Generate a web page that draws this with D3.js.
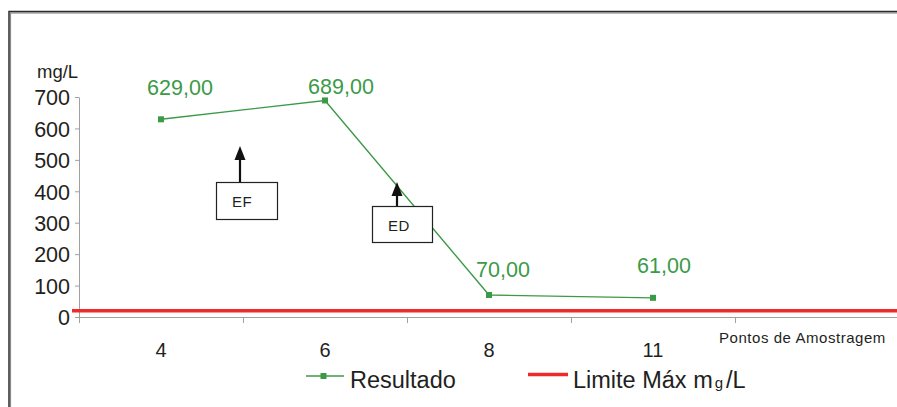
<!DOCTYPE html>
<html>
<head>
<meta charset="utf-8">
<script src="https://cdn.jsdelivr.net/npm/d3@7/dist/d3.min.js"></script>
<style>
  html, body { margin: 0; padding: 0; background: #fff; }
  svg { display: block; font-family: "Liberation Sans", Arial, Helvetica, sans-serif; }
</style>
</head>
<body>
<svg id="chart" width="897" height="407"></svg>
<script>
// Sampling points and measured concentrations (mg/L)
const categories = ["4", "6", "8", "11"];
const resultado = [629, 689, 70, 61];
const limiteMax = 20;
const yTicks = [0, 100, 200, 300, 400, 500, 600, 700];

// Label placement relative to each point (px): centre x offset, baseline y offset
const labelOffsets = [[19, -24], [16, -6], [14, -18], [11, -25]];

const green = "#3b9a47";
const red = "#ee2a2a";
const axisGray = "#a0a0a0";
const textColor = "#231f20";

const svg = d3.select("#chart");

// Outer frame (extends past the right and bottom edges)
svg.append("rect")
  .attr("x", 9.5).attr("y", 12)
  .attr("width", 960).attr("height", 460)
  .attr("fill", "none")
  .attr("stroke", "#8a8a8a").attr("stroke-width", 1.2)
  .attr("transform", "translate(1,1)");
svg.append("rect")
  .attr("x", 9).attr("y", 11.5)
  .attr("width", 960).attr("height", 460)
  .attr("fill", "none")
  .attr("stroke", "#2b2b2b").attr("stroke-width", 1.5);

const plotLeft = 79, plotBottom = 317, plotTop = 97;
const band = 164;

const x = d3.scaleBand()
  .domain(categories)
  .range([plotLeft, plotLeft + band * categories.length])
  .paddingInner(0).paddingOuter(0);

const y = d3.scaleLinear()
  .domain([0, 700])
  .range([plotBottom, plotTop]);

// Y axis
const yAxis = svg.append("g")
  .attr("transform", `translate(${plotLeft},0)`)
  .call(d3.axisLeft(y).tickValues(yTicks).tickSize(4).tickPadding(5).tickSizeOuter(0));
yAxis.select(".domain").attr("stroke", axisGray);
yAxis.selectAll(".tick line").attr("stroke", axisGray);
yAxis.selectAll(".tick text")
  .attr("font-size", 21.5).attr("fill", textColor)
  .attr("font-family", "Liberation Sans, Arial, sans-serif")
  .attr("dy", "0.36em");

// X axis: baseline with ticks on category boundaries
const xAxis = svg.append("g");
xAxis.append("line")
  .attr("x1", plotLeft).attr("x2", 905)
  .attr("y1", y(0) + 0.5).attr("y2", y(0) + 0.5)
  .attr("stroke", axisGray);
const boundaries = categories.map(c => x(c)).concat([x.range()[1], x.range()[1] + band]);
xAxis.selectAll("line.tick")
  .data(boundaries)
  .join("line")
  .attr("class", "tick")
  .attr("x1", d => d + 0.5).attr("x2", d => d + 0.5)
  .attr("y1", y(0)).attr("y2", y(0) + 6)
  .attr("stroke", axisGray);
xAxis.selectAll("text.cat")
  .data(categories)
  .join("text")
  .attr("class", "cat")
  .attr("x", d => x(d) + x.bandwidth() / 2)
  .attr("y", 357)
  .attr("text-anchor", "middle")
  .attr("font-size", 20)
  .attr("fill", textColor)
  .text(d => d);

// Axis titles
svg.append("text")
  .attr("x", 37).attr("y", 78)
  .attr("font-size", 18.5).attr("fill", textColor)
  .text("mg/L");
svg.append("text")
  .attr("x", 719).attr("y", 343)
  .attr("font-size", 15).attr("fill", textColor)
  .attr("letter-spacing", 0.55)
  .text("Pontos de Amostragem");

// Maximum limit line
svg.append("line")
  .attr("x1", 72).attr("x2", 905)
  .attr("y1", y(limiteMax)).attr("y2", y(limiteMax))
  .attr("stroke", red).attr("stroke-width", 3.5);

// Result series
const pts = categories.map((c, i) => ({ c, v: resultado[i], off: labelOffsets[i] }));
const line = d3.line()
  .x(d => x(d.c) + x.bandwidth() / 2)
  .y(d => y(d.v));
svg.append("path")
  .datum(pts)
  .attr("d", line)
  .attr("fill", "none")
  .attr("stroke", green).attr("stroke-width", 1.4);
svg.selectAll("rect.mk")
  .data(pts)
  .join("rect")
  .attr("class", "mk")
  .attr("x", d => x(d.c) + x.bandwidth() / 2 - 3)
  .attr("y", d => y(d.v) - 3)
  .attr("width", 6).attr("height", 6)
  .attr("fill", green);

const fmt = v => d3.format(".2f")(v).replace(".", ",");
svg.selectAll("text.val")
  .data(pts)
  .join("text")
  .attr("class", "val")
  .attr("x", d => x(d.c) + x.bandwidth() / 2 + d.off[0])
  .attr("y", d => y(d.v) + d.off[1])
  .attr("text-anchor", "middle")
  .attr("font-size", 21.5)
  .attr("fill", green)
  .text(d => fmt(d.v));

// Callouts with upward arrows
const callouts = [
  { text: "EF", box: [216, 182, 61, 37], arrowX: 240, tip: 146 },
  { text: "ED", box: [372, 206, 60, 36], arrowX: 397, tip: 182 }
];
const cg = svg.selectAll("g.callout").data(callouts).join("g").attr("class", "callout");
cg.append("line")
  .attr("x1", d => d.arrowX).attr("x2", d => d.arrowX)
  .attr("y1", d => d.box[1]).attr("y2", d => d.tip + 12)
  .attr("stroke", "#111").attr("stroke-width", 2.2);
cg.append("path")
  .attr("d", d => `M${d.arrowX},${d.tip} L${d.arrowX - 5.5},${d.tip + 14} L${d.arrowX + 5.5},${d.tip + 14} Z`)
  .attr("fill", "#111");
cg.append("rect")
  .attr("x", d => d.box[0] + 0.5).attr("y", d => d.box[1] + 0.5)
  .attr("width", d => d.box[2]).attr("height", d => d.box[3])
  .attr("fill", "#fff").attr("stroke", "#222").attr("stroke-width", 1.2);
cg.append("text")
  .attr("x", d => d.box[0] + 16).attr("y", d => d.box[1] + 24.5)
  .attr("font-size", 15).attr("fill", textColor)
  .attr("letter-spacing", 0.5)
  .text(d => d.text);

// Legend
const lg = svg.append("g");
lg.append("line")
  .attr("x1", 306).attr("x2", 344).attr("y1", 376).attr("y2", 376)
  .attr("stroke", green).attr("stroke-width", 1.4);
lg.append("rect")
  .attr("x", 320.5).attr("y", 373).attr("width", 6).attr("height", 6)
  .attr("fill", green);
lg.append("text")
  .attr("x", 350).attr("y", 387.5)
  .attr("font-size", 23.5).attr("fill", textColor)
  .text("Resultado");
lg.append("line")
  .attr("x1", 528).attr("x2", 568).attr("y1", 374.5).attr("y2", 374.5)
  .attr("stroke", red).attr("stroke-width", 3.5);
const lt = lg.append("text")
  .attr("x", 573).attr("y", 387.5)
  .attr("font-size", 23.5).attr("fill", textColor);
lt.append("tspan").text("Limite Máx m");
lt.append("tspan").attr("font-size", 15).attr("dx", 2).text("g");
lt.append("tspan").attr("dx", 3).text("/L");
</script>
</body>
</html>
